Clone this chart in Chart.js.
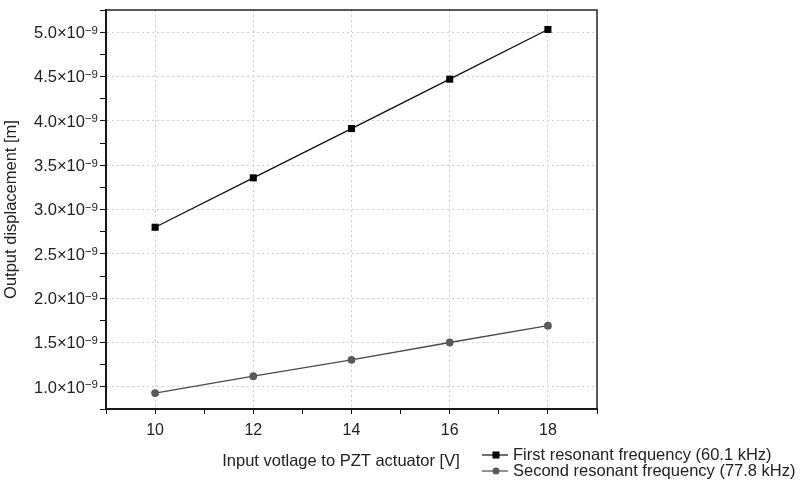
<!DOCTYPE html>
<html>
<head>
<title>Output displacement vs input voltage</title>
<script src="https://cdn.jsdelivr.net/npm/chart.js"></script>
<style>
  body { margin: 0; background: #fff; }
</style>
</head>
<body>
<canvas id="dispChart" width="800" height="487"></canvas>

<script>
// values
const voltages = [10, 12, 14, 16, 18];
const firstMode = [2.80e-9, 3.357e-9, 3.913e-9, 4.47e-9, 5.03e-9];
const secondMode = [0.93e-9, 1.12e-9, 1.305e-9, 1.50e-9, 1.69e-9];
const seriesLabels = ['First resonant frequency (60.1 kHz)', 'Second resonant frequency (77.8 kHz)'];
const yExponent = '\u22129';
const xTitle = 'Input votlage to PZT actuator [V]';
const yTitle = 'Output displacement [m]';

const FONT = "'Liberation Sans', Arial, sans-serif";
const TXT = '#222';

function pairs(xs, ys) {
  return xs.map((x, i) => ({ x: x, y: ys[i] }));
}

function isMajor(v) {
  return Math.round(v * 4e9) % 2 === 0;
}

// frame round the plot, y labels with superscript, x title, legend under the right half
const extrasPlugin = {
  id: 'extras',
  afterDraw(chart) {
    const { ctx, chartArea: a } = chart;
    ctx.save();
    ctx.strokeStyle = '#222';
    ctx.lineWidth = 1.5;
    ctx.strokeRect(a.left, a.top, a.right - a.left, a.bottom - a.top);

    // y tick labels  a.b×10^-9
    const ys = chart.scales.y;
    const rightEdge = ys.right - 8;
    ctx.fillStyle = TXT;
    ctx.textAlign = 'left';
    ctx.textBaseline = 'alphabetic';
    ys.ticks.forEach(t => {
      if (!isMajor(t.value)) return;
      const py = ys.getPixelForValue(t.value);
      const main = (Math.round(t.value * 4e9) / 4).toFixed(1) + '×10';
      ctx.font = '11.5px ' + FONT;
      const supW = ctx.measureText(yExponent).width;
      ctx.font = '16.5px ' + FONT;
      const mainW = ctx.measureText(main).width;
      const x = rightEdge - supW - mainW;
      ctx.fillText(main, x, py + 5.8);
      ctx.font = '11.5px ' + FONT;
      ctx.fillText(yExponent, x + mainW, py + 1.5);
    });

    // x axis title, a little left of the plot centre as in the original
    ctx.font = '16.5px ' + FONT;
    ctx.textAlign = 'center';
    ctx.textBaseline = 'middle';
    ctx.fillText(xTitle, a.left + 235, a.bottom + 52);

    // legend
    const x0 = a.left + 376;
    let y = a.bottom + 46;
    ctx.textAlign = 'left';
    chart.data.datasets.forEach(ds => {
      ctx.strokeStyle = ds.borderColor;
      ctx.lineWidth = 1.2;
      ctx.beginPath();
      ctx.moveTo(x0, y);
      ctx.lineTo(x0 + 26, y);
      ctx.stroke();
      ctx.fillStyle = ds.pointBackgroundColor;
      if (ds.pointStyle === 'rect') {
        ctx.fillRect(x0 + 10.5, y - 3.5, 7, 7);
      } else {
        ctx.beginPath();
        ctx.arc(x0 + 14, y, 3.5, 0, Math.PI * 2);
        ctx.fill();
      }
      ctx.fillStyle = TXT;
      ctx.fillText(ds.label, x0 + 31, y);
      y += 16;
    });
    ctx.restore();
  }
};

const ctx = document.getElementById('dispChart').getContext('2d');
const dispChart = new Chart(ctx, {
  type: 'line',
  data: {
    datasets: [{
      label: seriesLabels[0],
      data: pairs(voltages, firstMode),
      borderColor: '#111',
      borderWidth: 1.3,
      pointStyle: 'rect',
      pointRadius: 5,
      pointBackgroundColor: '#000',
      pointBorderWidth: 0,
      fill: false
    }, {
      label: seriesLabels[1],
      data: pairs(voltages, secondMode),
      borderColor: '#4a4a4a',
      borderWidth: 1.3,
      pointStyle: 'circle',
      pointRadius: 3.9,
      pointBackgroundColor: '#5a5a5a',
      pointBorderWidth: 0,
      fill: false
    }]
  },
  options: {
    responsive: false,
    animation: false,
    layout: { padding: { left: 0, right: 203, top: 10, bottom: 0 } },
    plugins: {
      legend: { display: false },
      tooltip: { enabled: false }
    },
    scales: {
      x: {
        type: 'linear',
        min: 9,
        max: 19,
        afterFit(scale) { scale.height = 78; },
        ticks: {
          stepSize: 1,
          padding: 7,
          color: TXT,
          font: { family: FONT, size: 16 },
          callback: v => (v % 2 === 0 ? String(v) : '')
        },
        grid: {
          color: c => (c.tick && c.tick.value % 2 === 0 ? '#cfcfcf' : 'rgba(0,0,0,0)'),
          tickColor: '#111',
          tickLength: 5,
          lineWidth: 1
        },
        border: { color: '#000', width: 2, dash: [2, 3] },
        title: { display: false }
      },
      y: {
        min: 0.75e-9,
        max: 5.25e-9,
        afterFit(scale) { scale.width = 106; },
        ticks: {
          stepSize: 0.25e-9,
          padding: 2,
          callback: () => ''
        },
        grid: {
          color: c => (c.tick && isMajor(c.tick.value) ? '#cfcfcf' : 'rgba(0,0,0,0)'),
          tickColor: '#111',
          tickLength: 6,
          lineWidth: 1
        },
        border: { color: '#000', width: 2, dash: [2, 3] },
        title: {
          display: true,
          text: yTitle,
          color: TXT,
          font: { family: FONT, size: 16.5 },
          padding: { top: 2, bottom: 0 }
        }
      }
    }
  },
  plugins: [extrasPlugin]
});
</script>
</body>
</html>
